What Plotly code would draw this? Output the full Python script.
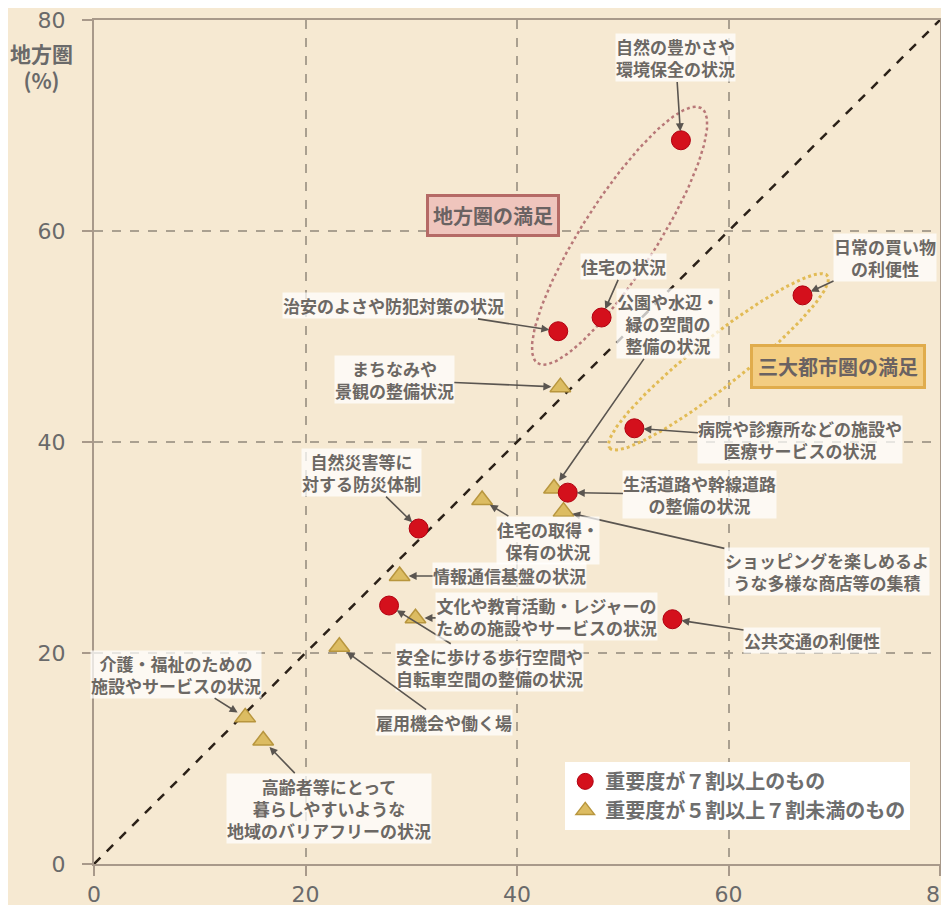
import numpy as np
import plotly.graph_objects as go

# ---------------- data ----------------
red_names = [
    "自然の豊かさや<br>環境保全の状況",
    "住宅の状況",
    "治安のよさや防犯対策の状況",
    "日常の買い物<br>の利便性",
    "病院や診療所などの施設や<br>医療サービスの状況",
    "生活道路や幹線道路<br>の整備の状況",
    "自然災害等に<br>対する防災体制",
    "安全に歩ける歩行空間や<br>自転車空間の整備の状況",
    "公共交通の利便性",
]
red_x = [55.5, 48.0, 43.9, 67.0, 51.1, 44.8, 30.7, 27.9, 54.7]
red_y = [68.6, 51.8, 50.5, 53.9, 41.3, 35.2, 31.8, 24.5, 23.2]

tri_names = [
    "まちなみや<br>景観の整備状況",
    "公園や水辺・<br>緑の空間の<br>整備の状況",
    "ショッピングを楽しめるよ<br>うな多様な商店等の集積",
    "住宅の取得・<br>保有の状況",
    "情報通信基盤の状況",
    "文化や教育活動・レジャーの<br>ための施設やサービスの状況",
    "雇用機会や働く場",
    "介護・福祉のための<br>施設やサービスの状況",
    "高齢者等にとって<br>暮らしやすいような<br>地域のバリアフリーの状況",
]
tri_x = [44.1, 43.5, 44.4, 36.7, 28.9, 30.4, 23.2, 14.3, 16.0]
tri_y = [45.2, 35.6, 33.4, 34.5, 27.3, 23.3, 20.6, 13.9, 11.7]

legend_names = ["重要度が７割以上のもの", "重要度が５割以上７割未満のもの"]
group_titles = ["地方圏の満足", "三大都市圏の満足"]
axis_ticks = [0, 20, 40, 60, 80]
y_title = "地方圏<br>(%)"

# groups enclosed by ellipses (indices into red arrays)
rural_group = [0, 1, 2]
urban_group = [3, 4]

# ---------------- layout helpers (label placement) ----------------
red_label_pos = [
    (55.0, 76.4), (50.1, 56.6), (28.3, 52.9), (74.8, 57.5), (66.8, 40.2),
    (57.3, 35.0), (25.3, 37.1), (37.4, 18.6), (67.9, 21.2),
]
tri_label_pos = [
    (28.4, 45.9), (54.3, 51.2), (69.3, 27.7), (42.9, 30.7), (39.3, 27.3),
    (42.8, 23.5), (33.1, 13.4), (7.8, 18.0), (22.2, 5.3),
]
group_box_pos = [(37.7, 61.5), (70.4, 47.2)]

BG = "#f6e9d2"
TXT = "#6c6864"
FONT = "Noto Sans CJK JP"


def ellipse(xs, ys, pad_major, semi_minor, n=200):
    xs = np.asarray(xs); ys = np.asarray(ys)
    best = (0, 0, -1)
    for i in range(len(xs)):
        for j in range(len(xs)):
            d = np.hypot(xs[i] - xs[j], ys[i] - ys[j])
            if d > best[2]:
                best = (i, j, d)
    i, j, d = best
    cx, cy = (xs[i] + xs[j]) / 2, (ys[i] + ys[j]) / 2
    ang = np.arctan2(ys[j] - ys[i], xs[j] - xs[i])
    a = d / 2 + pad_major
    b = semi_minor
    t = np.linspace(0, 2 * np.pi, n)
    ex = cx + a * np.cos(t) * np.cos(ang) - b * np.sin(t) * np.sin(ang)
    ey = cy + a * np.cos(t) * np.sin(ang) + b * np.sin(t) * np.cos(ang)
    return ex, ey


fig = go.Figure()

ex, ey = ellipse([red_x[k] for k in rural_group], [red_y[k] for k in rural_group], 3.6, 3.5)
fig.add_trace(go.Scatter(x=ex, y=ey, mode="lines", showlegend=False, hoverinfo="skip",
                         line=dict(color="#b87878", width=2.5, dash="dot")))
ex, ey = ellipse([red_x[k] for k in urban_group], [red_y[k] for k in urban_group], 3.0, 2.3)
fig.add_trace(go.Scatter(x=ex, y=ey, mode="lines", showlegend=False, hoverinfo="skip",
                         line=dict(color="#e2bb55", width=3, dash="dot")))

fig.add_trace(go.Scatter(x=[axis_ticks[0], axis_ticks[-1]], y=[axis_ticks[0], axis_ticks[-1]],
                         mode="lines", showlegend=False, hoverinfo="skip",
                         line=dict(color="#2b2118", width=2.5, dash="dash")))

fig.add_trace(go.Scatter(x=tri_x, y=tri_y, mode="markers", name=legend_names[1], legendrank=2,
                         marker=dict(symbol="triangle-up", size=18, color="#dcbc62",
                                     line=dict(color="#b8963e", width=1.5))))
fig.add_trace(go.Scatter(x=red_x, y=red_y, mode="markers", name=legend_names[0], legendrank=1,
                         marker=dict(symbol="circle", size=19, color="#d4101c",
                                     line=dict(color="#b00010", width=1))))

annotations = []
for names, xs, ys, pos in [(red_names, red_x, red_y, red_label_pos),
                           (tri_names, tri_x, tri_y, tri_label_pos)]:
    for nm, x, y, (lx, ly) in zip(names, xs, ys, pos):
        annotations.append(dict(
            x=x, y=y, xref="x", yref="y", ax=lx, ay=ly, axref="x", ayref="y",
            text=nm, showarrow=True, arrowhead=2, arrowsize=1, arrowwidth=1.6,
            arrowcolor="#5a5550", standoff=9,
            font=dict(family=FONT, size=17, color=TXT, weight="bold"),
            bgcolor="rgba(255,255,255,0.72)", borderpad=0, align="center",
        ))

annotations.append(dict(x=group_box_pos[0][0], y=group_box_pos[0][1], xref="x", yref="y",
                        text=group_titles[0], showarrow=False,
                        font=dict(family=FONT, size=20, color="#6a6262", weight="bold"),
                        bgcolor="#efc5bd", bordercolor="#b56a66", borderwidth=3, borderpad=4))
annotations.append(dict(x=group_box_pos[1][0], y=group_box_pos[1][1], xref="x", yref="y",
                        text=group_titles[1], showarrow=False,
                        font=dict(family=FONT, size=20, color="#6a6262", weight="bold"),
                        bgcolor="#f3cd82", bordercolor="#e0ac4c", borderwidth=3, borderpad=5))

annotations.append(dict(x=-0.062, y=0.945, xref="paper", yref="paper", text=y_title,
                        showarrow=False, xanchor="center", yanchor="middle",
                        font=dict(family=FONT, size=21, color="#6a6a6a", weight="bold")))

# the page body adds an 8px offset; margins compensate so the plot area sits at 94..940 x 20..864
fig.update_layout(
    width=949, height=905,
    margin=dict(l=86, r=17, t=12, b=49, autoexpand=False),
    paper_bgcolor=BG, plot_bgcolor=BG,
    annotations=annotations,
    legend=dict(x=0.557, y=0.121, xanchor="left", yanchor="top",
                bgcolor="#ffffff", borderwidth=0,
                font=dict(family=FONT, size=20, color="#6e6e6e", weight="bold"),
                itemwidth=30, tracegroupgap=2),
    font=dict(family=FONT),
)

axis_common = dict(
    range=[axis_ticks[0], axis_ticks[-1]], tickvals=axis_ticks, ticktext=[str(t) for t in axis_ticks],
    showgrid=True, gridcolor="#aaa090", gridwidth=1.5, griddash="dash",
    showline=True, linecolor="#a8998a", linewidth=2, mirror=True,
    ticks="outside", ticklen=10, tickcolor="#a8998a", tickwidth=1.5,
    tickfont=dict(family="DejaVu Sans", size=22, color="#6a6a6a"),
    zeroline=False, automargin=False, ticklabeloverflow="allow",
)
fig.update_xaxes(**axis_common)
fig.update_yaxes(**axis_common, ticklabelstandoff=12)

fig.write_html("out.html")
